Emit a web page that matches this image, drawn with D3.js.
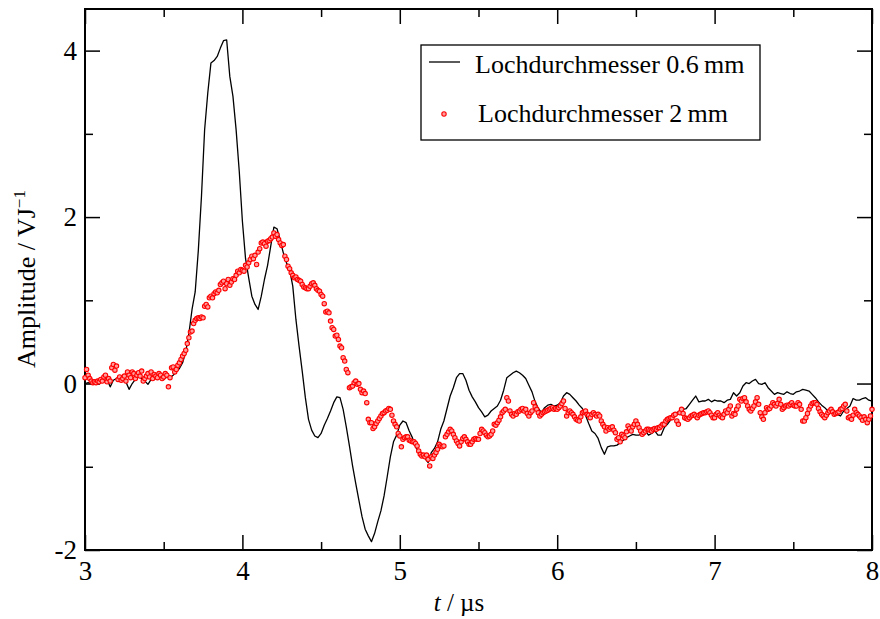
<!DOCTYPE html>
<html>
<head>
<meta charset="utf-8">
<script src="https://cdn.jsdelivr.net/npm/d3@7"></script>
</head>
<body style="margin:0">
<svg width="880" height="619" font-family="Liberation Serif"></svg>
<script>
// Sampling grid of both measurements (µs)
const tStart = 3;
const stepThin = 0.02;   // Lochdurchmesser 0.6 mm
const stepWide = 0.01;   // Lochdurchmesser 2 mm

// Amplitude / VJ^-1, hole diameter 0.6 mm (every 0.02 µs from 3.00)
const amp06 = [
  0.00, 0.01, 0.00, 0.02, 0.01, 0.03, 0.02, 0.05, -0.04, 0.04,
  0.06, 0.04, 0.07, 0.02, -0.07, 0.00, 0.05, 0.08, 0.06, 0.03,
  -0.01, 0.05, 0.08, 0.06, 0.07, 0.05, 0.08, 0.07, 0.10, 0.14,
  0.18, 0.25, 0.38, 0.60, 0.89, 1.10, 1.60, 2.25, 3.05, 3.49,
  3.85, 3.88, 3.93, 4.03, 4.12, 4.13, 3.69, 3.45, 3.05, 2.55,
  1.95, 1.50, 1.27, 1.05, 0.95, 0.89, 1.05, 1.25, 1.42, 1.65,
  1.88, 1.86, 1.72, 1.57, 1.45, 1.37, 1.17, 0.77, 0.45, 0.15,
  -0.17, -0.43, -0.56, -0.63, -0.65, -0.60, -0.50, -0.42, -0.33, -0.23,
  -0.16, -0.17, -0.31, -0.52, -0.75, -0.99, -1.20, -1.40, -1.60, -1.75,
  -1.83, -1.90, -1.80, -1.66, -1.53, -1.35, -1.12, -0.88, -0.70, -0.62,
  -0.50, -0.45, -0.47, -0.57, -0.65, -0.76, -0.82, -0.86, -0.90, -0.95,
  -0.83, -0.78, -0.70, -0.55, -0.45, -0.30, -0.15, -0.05, 0.07, 0.12,
  0.12, 0.04, -0.08, -0.16, -0.22, -0.29, -0.34, -0.40, -0.38, -0.33,
  -0.30, -0.27, -0.20, -0.08, 0.07, 0.10, 0.13, 0.15, 0.13, 0.10,
  0.06, -0.02, -0.10, -0.22, -0.30, -0.35, -0.29, -0.26, -0.25, -0.27,
  -0.26, -0.23, -0.15, -0.11, -0.13, -0.17, -0.21, -0.26, -0.30, -0.38,
  -0.48, -0.57, -0.60, -0.66, -0.77, -0.85, -0.76, -0.75, -0.75, -0.74,
  -0.71, -0.68, -0.65, -0.63, -0.61, -0.62, -0.62, -0.58, -0.57, -0.62,
  -0.60, -0.57, -0.62, -0.62, -0.53, -0.49, -0.44, -0.38, -0.35, -0.33,
  -0.31, -0.30, -0.25, -0.20, -0.15, -0.22, -0.21, -0.21, -0.19, -0.22,
  -0.20, -0.21, -0.21, -0.23, -0.20, -0.19, -0.11, -0.15, -0.11, -0.03,
  0.01, 0.00, 0.03, 0.05, 0.00, -0.01, 0.01, -0.05, -0.09, -0.13,
  -0.11, -0.12, -0.13, -0.10, -0.12, -0.13, -0.10, -0.09, -0.07, -0.08,
  -0.09, -0.13, -0.17, -0.22, -0.26, -0.29, -0.33, -0.35, -0.35, -0.37,
  -0.39, -0.33, -0.30, -0.27, -0.18, -0.20, -0.20, -0.18, -0.17, -0.20,
  -0.21
];

// Amplitude / VJ^-1, hole diameter 2 mm (every 0.01 µs from 3.00)
const amp2 = [
  0.07, 0.17, 0.10, 0.06, 0.03, 0.01, 0.02, 0.01, 0.03, 0.02,
  0.05, 0.03, 0.08, 0.10, 0.02, 0.06, 0.03, 0.19, 0.23, 0.16,
  0.21, 0.05, 0.08, 0.04, 0.06, 0.09, 0.03, 0.14, 0.10, 0.07,
  0.14, 0.12, 0.06, 0.10, 0.13, 0.09, 0.15, 0.03, 0.06, 0.09,
  0.12, 0.08, 0.14, 0.06, 0.11, 0.09, 0.07, 0.12, 0.10, 0.06,
  0.08, 0.12, 0.10, -0.04, 0.07, 0.19, 0.20, 0.14, 0.17, 0.22,
  0.25, 0.29, 0.33, 0.36, 0.40, 0.48, 0.55, 0.62, 0.63, 0.72,
  0.76, 0.78, 0.79, 0.78, 0.80, 0.79, 0.93, 0.95, 0.92, 1.03,
  1.05, 1.03, 1.08, 1.10, 1.09, 1.12, 1.19, 1.21, 1.23, 1.14,
  1.20, 1.25, 1.18, 1.22, 1.26, 1.25, 1.30, 1.35, 1.33, 1.37,
  1.36, 1.35, 1.42, 1.40, 1.45, 1.49, 1.53, 1.50, 1.54, 1.43,
  1.58, 1.62, 1.69, 1.70, 1.68, 1.65, 1.71, 1.72, 1.74, 1.76,
  1.81, 1.77, 1.79, 1.73, 1.69, 1.66, 1.67, 1.53, 1.49, 1.41,
  1.38, 1.33, 1.30, 1.27, 1.28, 1.25, 1.24, 1.23, 1.19, 1.16,
  1.15, 1.14, 1.14, 1.17, 1.20, 1.21, 1.18, 1.14, 1.12, 1.11,
  1.07, 1.05, 0.96, 0.86, 0.87, 0.85, 0.75, 0.67, 0.65, 0.57,
  0.58, 0.53, 0.45, 0.43, 0.31, 0.27, 0.17, 0.13, -0.05, -0.04,
  -0.03, 0.01, 0.03, -0.01, 0.00, -0.07, -0.11, -0.09, -0.12, -0.23,
  -0.43, -0.47, -0.47, -0.54, -0.52, -0.48, -0.45, -0.42, -0.39, -0.36,
  -0.35, -0.33, -0.32, -0.30, -0.31, -0.38, -0.45, -0.49, -0.52, -0.60,
  -0.63, -0.76, -0.67, -0.65, -0.64, -0.64, -0.68, -0.69, -0.70, -0.70,
  -0.72, -0.75, -0.81, -0.85, -0.87, -0.86, -0.88, -0.86, -0.91, -0.99,
  -0.88, -0.90, -0.86, -0.83, -0.79, -0.73, -0.75, -0.76, -0.75, -0.64,
  -0.61, -0.58, -0.55, -0.57, -0.61, -0.65, -0.69, -0.72, -0.75, -0.70,
  -0.66, -0.64, -0.67, -0.70, -0.73, -0.73, -0.70, -0.67, -0.66, -0.67,
  -0.67, -0.60, -0.55, -0.57, -0.59, -0.62, -0.64, -0.63, -0.61, -0.57,
  -0.49, -0.50, -0.47, -0.44, -0.40, -0.35, -0.33, -0.31, -0.17, -0.21,
  -0.33, -0.37, -0.39, -0.36, -0.37, -0.34, -0.33, -0.31, -0.30, -0.33,
  -0.31, -0.36, -0.39, -0.35, -0.33, -0.23, -0.28, -0.31, -0.35, -0.39,
  -0.37, -0.35, -0.34, -0.33, -0.32, -0.31, -0.30, -0.29, -0.31, -0.30,
  -0.31, -0.29, -0.27, -0.24, -0.21, -0.30, -0.39, -0.35, -0.33, -0.35,
  -0.37, -0.40, -0.43, -0.44, -0.45, -0.40, -0.35, -0.34, -0.33, -0.37,
  -0.38, -0.41, -0.37, -0.35, -0.37, -0.39, -0.37, -0.39, -0.45, -0.49,
  -0.52, -0.57, -0.53, -0.55, -0.53, -0.52, -0.56, -0.59, -0.67, -0.65,
  -0.70, -0.61, -0.63, -0.65, -0.58, -0.51, -0.54, -0.57, -0.52, -0.49,
  -0.45, -0.49, -0.53, -0.57, -0.61, -0.59, -0.57, -0.55, -0.55, -0.56,
  -0.57, -0.55, -0.54, -0.55, -0.53, -0.53, -0.51, -0.49, -0.49, -0.45,
  -0.43, -0.42, -0.41, -0.41, -0.38, -0.37, -0.45, -0.49, -0.35, -0.31,
  -0.36, -0.41, -0.42, -0.43, -0.41, -0.39, -0.38, -0.37, -0.39, -0.41,
  -0.38, -0.37, -0.36, -0.35, -0.35, -0.34, -0.33, -0.35, -0.38, -0.41,
  -0.41, -0.37, -0.35, -0.38, -0.40, -0.41, -0.37, -0.33, -0.35, -0.31,
  -0.27, -0.39, -0.36, -0.37, -0.31, -0.27, -0.19, -0.21, -0.18, -0.17,
  -0.22, -0.27, -0.31, -0.33, -0.30, -0.27, -0.22, -0.17, -0.25, -0.35,
  -0.40, -0.43, -0.35, -0.29, -0.31, -0.30, -0.27, -0.23, -0.25, -0.27,
  -0.24, -0.19, -0.25, -0.31, -0.29, -0.27, -0.26, -0.27, -0.25, -0.23,
  -0.26, -0.27, -0.27, -0.23, -0.25, -0.31, -0.45, -0.45, -0.41, -0.36,
  -0.31, -0.27, -0.24, -0.23, -0.23, -0.25, -0.30, -0.34, -0.37, -0.39,
  -0.41, -0.38, -0.35, -0.33, -0.31, -0.34, -0.37, -0.36, -0.35, -0.34,
  -0.31, -0.30, -0.27, -0.25, -0.33, -0.41, -0.40, -0.43, -0.38, -0.31,
  -0.35, -0.37, -0.39, -0.41, -0.44, -0.40, -0.43, -0.47, -0.43, -0.39,
  -0.31
];

// Axis ticks
const xMajor = [3, 4, 5, 6, 7, 8];
const xMinor = [3.5, 4.5, 5.5, 6.5, 7.5];
const yMajor = [-2, 0, 2, 4];
const yMinor = [-1, 1, 3];

const legendLabels = ["Lochdurchmesser 0.6\u2009mm", "Lochdurchmesser 2\u2009mm"];

const svg = d3.select("svg");
const plot = { left: 85, right: 872, top: 9, bottom: 550 };

const x = d3.scaleLinear().domain([3, 8]).range([plot.left, plot.right]);
const y = d3.scaleLinear().domain([-2, 4.5]).range([plot.bottom, plot.top]);

const thin = amp06.map((v, i) => ({ t: tStart + i * stepThin, v }));
const wide = amp2.map((v, i) => ({ t: tStart + i * stepWide, v }));

svg.append("rect").attr("width", 880).attr("height", 619).attr("fill", "#fff");

// Ticks point inwards on all four sides
function drawAxis(axis, transform) {
  const g = svg.append("g").attr("transform", transform).call(axis);
  g.attr("font-family", null).attr("font-size", null);
  g.select(".domain").remove();
  g.selectAll(".tick line").attr("stroke", "#000").attr("stroke-width", 1.5);
  g.selectAll(".tick text")
    .attr("font-family", "Liberation Serif")
    .attr("font-size", 27)
    .attr("fill", "#000");
  return g;
}

drawAxis(d3.axisBottom(x).tickValues(xMajor).tickSizeInner(-15).tickPadding(11)
  .tickFormat(d => String(d)), `translate(0,${plot.bottom})`);
drawAxis(d3.axisBottom(x).tickValues(xMinor).tickSizeInner(-8).tickFormat(""),
  `translate(0,${plot.bottom})`);
drawAxis(d3.axisTop(x).tickValues(xMajor).tickSizeInner(-15).tickFormat(""),
  `translate(0,${plot.top})`);
drawAxis(d3.axisTop(x).tickValues(xMinor).tickSizeInner(-8).tickFormat(""),
  `translate(0,${plot.top})`);

drawAxis(d3.axisLeft(y).tickValues(yMajor).tickSizeInner(-15).tickPadding(8)
  .tickFormat(d => String(d)), `translate(${plot.left},0)`);
drawAxis(d3.axisLeft(y).tickValues(yMinor).tickSizeInner(-8).tickFormat(""),
  `translate(${plot.left},0)`);
drawAxis(d3.axisRight(y).tickValues(yMajor).tickSizeInner(-15).tickFormat(""),
  `translate(${plot.right},0)`);
drawAxis(d3.axisRight(y).tickValues(yMinor).tickSizeInner(-8).tickFormat(""),
  `translate(${plot.right},0)`);

// Frame
svg.append("rect")
  .attr("x", plot.left).attr("y", plot.top)
  .attr("width", plot.right - plot.left).attr("height", plot.bottom - plot.top)
  .attr("fill", "none").attr("stroke", "#000").attr("stroke-width", 2);

// 0.6 mm trace
const line = d3.line().x(d => x(d.t)).y(d => y(d.v));
svg.append("path")
  .datum(thin)
  .attr("d", line)
  .attr("fill", "none")
  .attr("stroke", "#000")
  .attr("stroke-width", 1.3)
  .attr("stroke-linejoin", "round");

// 2 mm points
svg.append("g").selectAll("circle")
  .data(wide)
  .join("circle")
  .attr("cx", d => x(d.t))
  .attr("cy", d => y(d.v))
  .attr("r", 2.2)
  .attr("fill", "#ff9c9c")
  .attr("stroke", "#ff0000")
  .attr("stroke-width", 1.1);

// Axis titles
const xTitle = svg.append("text")
  .attr("x", 459).attr("y", 611)
  .attr("text-anchor", "middle")
  .attr("font-family", "Liberation Serif")
  .attr("font-size", 25);
xTitle.append("tspan").attr("font-style", "italic").text("t");
xTitle.append("tspan").text(" / \u00b5s");

const yTitle = svg.append("text")
  .attr("transform", "translate(35,279) rotate(-90)")
  .attr("text-anchor", "middle")
  .attr("font-family", "Liberation Serif")
  .attr("font-size", 26);
yTitle.append("tspan").text("Amplitude / VJ");
yTitle.append("tspan").attr("dy", -10).attr("font-size", 17).text("\u22121");

// Legend
const legend = svg.append("g");
legend.append("rect")
  .attr("x", 421).attr("y", 45).attr("width", 339).attr("height", 95)
  .attr("fill", "#fff").attr("stroke", "#000").attr("stroke-width", 1.3);
legend.append("line")
  .attr("x1", 429).attr("x2", 460).attr("y1", 62).attr("y2", 62)
  .attr("stroke", "#000").attr("stroke-width", 1.3);
legend.append("circle")
  .attr("cx", 444).attr("cy", 114).attr("r", 2.2)
  .attr("fill", "#ff9c9c").attr("stroke", "#ff0000").attr("stroke-width", 1.1);
legend.selectAll("text.lab")
  .data(legendLabels)
  .join("text")
  .attr("class", "lab")
  .attr("x", (d, i) => i === 0 ? 475 : 478)
  .attr("y", (d, i) => i === 0 ? 73 : 122)
  .attr("font-family", "Liberation Serif")
  .attr("font-size", 26)
  .text(d => d);
</script>
</body>
</html>
